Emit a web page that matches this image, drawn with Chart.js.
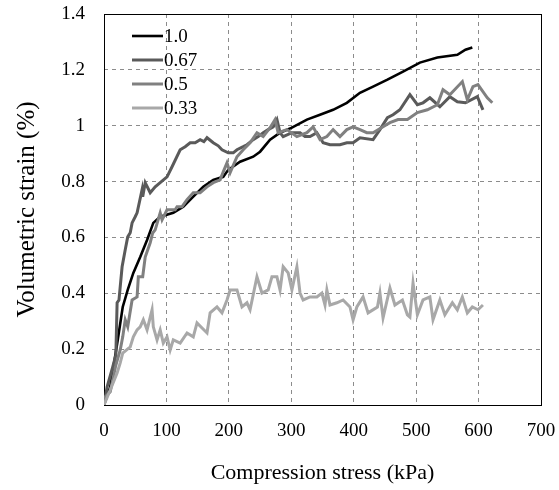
<!DOCTYPE html>
<html>
<head>
<meta charset="utf-8">
<script src="https://cdn.jsdelivr.net/npm/chart.js@4.4.1/dist/chart.umd.min.js"></script>
<style>
    body { margin: 0; background: #fff; }
    #wrap { width: 559px; height: 490px; }
</style>
</head>
<body>
<div id="wrap"><canvas id="strainChart" width="559" height="490"></canvas></div>
<script>
// ratios (series names)
const seriesNames = ['1.0', '0.67', '0.5', '0.33'];
const seriesColors = ['#000000', '#5a5a5a', '#808080', '#a8a8a8'];

// compression stress (kPa) / volumetric strain (%)
const stress10 = [0, 10, 22, 30, 38, 47, 58, 69, 79, 90, 111, 127, 143, 159, 175, 191, 199, 218, 239, 250, 266, 282, 301, 325, 346, 367, 389, 410, 431, 454, 479, 506, 534, 566, 579, 590];
const strain10 = [0, 0.065, 0.233, 0.351, 0.412, 0.473, 0.530, 0.591, 0.652, 0.674, 0.688, 0.710, 0.746, 0.781, 0.806, 0.817, 0.842, 0.871, 0.889, 0.907, 0.950, 0.975, 0.993, 1.022, 1.039, 1.057, 1.082, 1.118, 1.140, 1.165, 1.194, 1.226, 1.244, 1.254, 1.272, 1.280];

const stress067 = [0, 5, 14, 19, 21, 24, 29, 34, 38, 42, 45, 50, 53, 61, 62, 66, 74, 82, 90, 101, 109, 122, 130, 138, 146, 154, 160, 165, 175, 183, 189, 199, 207, 213, 223, 229, 239, 247, 255, 263, 271, 277, 282, 287, 301, 314, 322, 330, 341, 351, 362, 378, 389, 399, 410, 431, 442, 454, 463, 474, 490, 502, 511, 522, 538, 554, 566, 579, 598, 607];
const strain067 = [0, 0.065, 0.136, 0.179, 0.366, 0.376, 0.495, 0.556, 0.602, 0.617, 0.652, 0.674, 0.688, 0.771, 0.746, 0.796, 0.760, 0.781, 0.796, 0.817, 0.853, 0.914, 0.925, 0.939, 0.939, 0.950, 0.943, 0.957, 0.939, 0.928, 0.914, 0.903, 0.903, 0.914, 0.925, 0.932, 0.950, 0.961, 0.975, 0.986, 0.996, 1.022, 0.975, 0.961, 0.975, 0.975, 0.961, 0.961, 0.975, 0.939, 0.932, 0.932, 0.939, 0.939, 0.957, 0.950, 0.986, 1.029, 1.039, 1.057, 1.111, 1.075, 1.082, 1.100, 1.068, 1.104, 1.086, 1.082, 1.104, 1.057];

const stress05 = [0, 2, 10, 14, 19, 26, 30, 34, 38, 45, 53, 55, 62, 66, 74, 78, 82, 90, 93, 101, 114, 117, 125, 133, 143, 154, 165, 175, 186, 191, 197, 202, 213, 223, 234, 245, 255, 266, 274, 279, 293, 309, 325, 335, 346, 357, 367, 378, 389, 399, 410, 421, 431, 447, 458, 471, 486, 502, 518, 534, 543, 554, 574, 582, 591, 599, 614, 622];
const strain05 = [0, 0.029, 0.047, 0.090, 0.143, 0.197, 0.244, 0.305, 0.280, 0.376, 0.387, 0.459, 0.459, 0.530, 0.581, 0.616, 0.627, 0.688, 0.663, 0.699, 0.699, 0.710, 0.710, 0.735, 0.760, 0.760, 0.781, 0.796, 0.806, 0.835, 0.867, 0.832, 0.889, 0.914, 0.939, 0.975, 0.961, 0.993, 1.022, 0.975, 0.986, 0.961, 0.975, 0.996, 0.950, 0.961, 0.986, 0.961, 0.986, 0.996, 0.986, 0.975, 0.975, 0.996, 1.011, 1.022, 1.022, 1.047, 1.057, 1.075, 1.129, 1.111, 1.158, 1.093, 1.140, 1.147, 1.100, 1.082];

const stress033 = [0, 10, 21, 26, 30, 42, 47, 53, 58, 63, 69, 77, 79, 85, 90, 95, 101, 106, 111, 122, 133, 143, 149, 165, 170, 181, 189, 197, 202, 213, 221, 229, 234, 245, 253, 263, 269, 277, 282, 287, 295, 301, 309, 314, 319, 330, 341, 349, 354, 357, 362, 373, 383, 394, 399, 405, 415, 423, 438, 442, 447, 458, 466, 478, 486, 490, 495, 502, 511, 522, 527, 538, 546, 558, 566, 574, 582, 590, 599, 607];
const strain033 = [0, 0.054, 0.115, 0.151, 0.186, 0.208, 0.244, 0.269, 0.280, 0.305, 0.269, 0.341, 0.280, 0.233, 0.269, 0.222, 0.244, 0.197, 0.233, 0.222, 0.258, 0.244, 0.294, 0.258, 0.330, 0.351, 0.330, 0.376, 0.412, 0.412, 0.351, 0.366, 0.341, 0.459, 0.401, 0.412, 0.459, 0.459, 0.412, 0.495, 0.473, 0.412, 0.495, 0.401, 0.376, 0.387, 0.387, 0.401, 0.358, 0.412, 0.358, 0.366, 0.376, 0.351, 0.305, 0.351, 0.387, 0.330, 0.351, 0.401, 0.312, 0.419, 0.358, 0.376, 0.323, 0.315, 0.437, 0.323, 0.376, 0.387, 0.305, 0.376, 0.323, 0.366, 0.341, 0.387, 0.330, 0.351, 0.341, 0.358];

// axis ticks
const xTicks = [0, 100, 200, 300, 400, 500, 600, 700];
const yTicks = [0, 0.2, 0.4, 0.6, 0.8, 1, 1.2, 1.4];

const xData = [stress10, stress067, stress05, stress033];
const yData = [strain10, strain067, strain05, strain033];

function toPoints(xs, ys)
{
    return xs.map((x, i) => ({ x: x, y: ys[i] }));
}

// keep the plot box where it is: no extra room for the end tick labels
function noLabelPadding(scale)
{
    scale.paddingLeft = 0;
    scale.paddingRight = 0;
    scale.paddingTop = 0;
    scale.paddingBottom = 0;
}

const serif = "'Liberation Serif', 'Times New Roman', serif";
Chart.defaults.font.family = serif;
Chart.defaults.color = '#000';

// plot frame and legend in the top-left corner of the plot
const framePlugin = 
{
    id: 'frame',
    beforeDatasetsDraw(chart)
    {
        const { ctx, chartArea } = chart;
        ctx.save();
        ctx.strokeStyle = '#000';
        ctx.lineWidth = 1;
        ctx.strokeRect(chartArea.left + 0.5, chartArea.top + 0.5,
            chartArea.right - chartArea.left, chartArea.bottom - chartArea.top);
        ctx.restore();
    },
    afterDraw(chart)
    {
        const { ctx, chartArea } = chart;
        ctx.save();
        ctx.font = '19px ' + serif;
        ctx.textBaseline = 'middle';
        ctx.fillStyle = '#000';
        chart.data.datasets.forEach((ds, i) =>
        {
            const y = chartArea.top + 22 + i * 24;
            const x0 = chartArea.left + 28;
            ctx.strokeStyle = ds.borderColor;
            ctx.lineWidth = ds.borderWidth;
            ctx.beginPath();
            ctx.moveTo(x0, y);
            ctx.lineTo(x0 + 31, y);
            ctx.stroke();
            ctx.fillText(ds.label, x0 + 32, y + 1);
        });
        ctx.restore();
    }
};

const ctx = document.getElementById('strainChart');

new Chart(ctx, 
{
    type: 'scatter',
    data: 
    {
        datasets: seriesNames.map((name, i) => (
        {
            label: name,
            data: toPoints(xData[i], yData[i]),
            showLine: true,
            borderColor: seriesColors[i],
            borderWidth: i === 0 ? 2.6 : 3,
            pointRadius: 0,
            tension: 0,
            order: i === 3 ? 0 : 4 - i
        }))
    },
    options: 
    {
        responsive: false,
        animation: false,
        devicePixelRatio: 1,
        layout: 
        {
            padding: { left: 0, top: 14, right: 18, bottom: 0 }
        },
        plugins: 
        {
            legend: { display: false },
            tooltip: { enabled: false }
        },
        scales: 
        {
            x: 
            {
                type: 'linear',
                min: 0,
                max: 700,
                afterBuildTicks: (scale) => { scale.ticks = xTicks.map(v => ({ value: v })); },
                afterFit: (scale) => { scale.height = 85; noLabelPadding(scale); },
                ticks: 
                {
                    padding: 15,
                    font: { size: 19 },
                    color: '#000'
                },
                grid: 
                {
                    color: '#8c8c8c',
                    lineWidth: 1,
                    drawTicks: false
                },
                border: { display: false, dash: [4, 4] },
                title: 
                {
                    display: true,
                    text: 'Compression stress (kPa)',
                    font: { size: 22 },
                    color: '#000',
                    padding: { top: 0, bottom: 4 }
                }
            },
            y: 
            {
                type: 'linear',
                min: 0,
                max: 1.4,
                afterBuildTicks: (scale) => { scale.ticks = yTicks.map(v => ({ value: v })); },
                afterFit: (scale) => { scale.width = 104; noLabelPadding(scale); },
                ticks: 
                {
                    padding: 19,
                    font: { size: 19 },
                    color: '#000',
                    callback: (value) => String(Number(value.toFixed(1)))
                },
                grid: 
                {
                    color: '#8c8c8c',
                    lineWidth: 1,
                    drawTicks: false
                },
                border: { display: false, dash: [4, 4] },
                title: 
                {
                    display: true,
                    text: 'Volumetric strain (%)',
                    font: { size: 25 },
                    color: '#000',
                    padding: { top: 12, bottom: 0 }
                }
            }
        }
    },
    plugins: [framePlugin]
});
</script>
</body>
</html>
